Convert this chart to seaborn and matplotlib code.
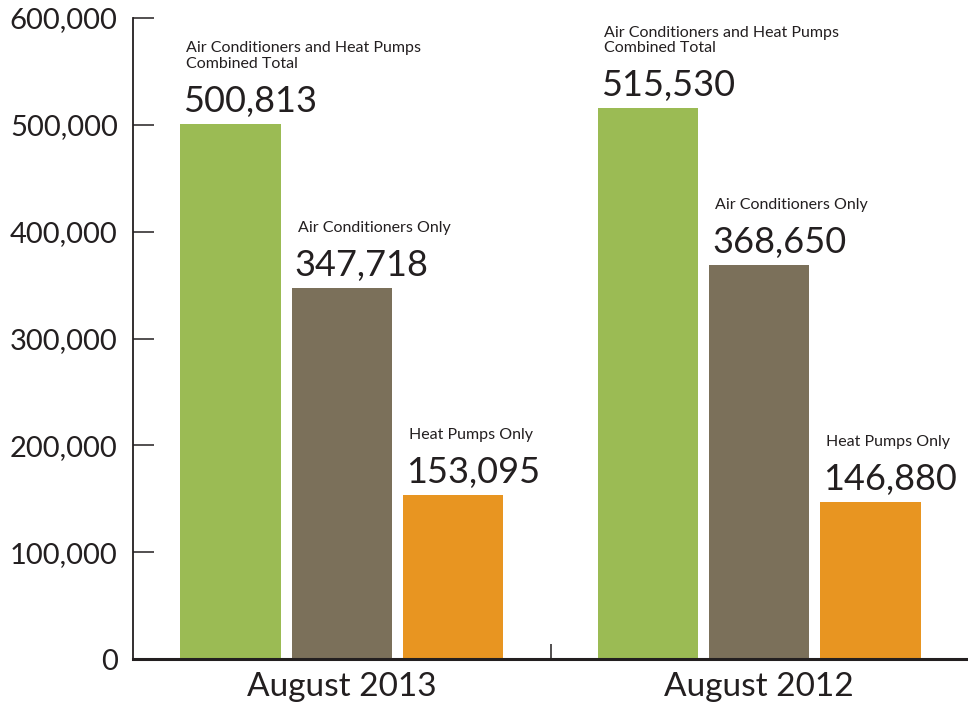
import pandas as pd
import matplotlib
matplotlib.use("Agg")
import matplotlib.pyplot as plt
import seaborn as sns

# chart data
periods = ["August 2013", "August 2012"]
types = ["Combined", "AC Only", "HP Only"]
type_titles = ["Air Conditioners and Heat Pumps\nCombined Total",
               "Air Conditioners Only",
               "Heat Pumps Only"]
combined = [500813, 515530]
ac_only = [347718, 368650]
hp_only = [153095, 146880]
y_ticks = [0, 100000, 200000, 300000, 400000, 500000, 600000]

colors = ["#9BBB54", "#7B705A", "#E89521"]
text_color = "#231F20"

df = pd.DataFrame({
    "period": periods * 3,
    "type": [types[0]] * 2 + [types[1]] * 2 + [types[2]] * 2,
    "units": combined + ac_only + hp_only,
})

sns.set_style("white")
plt.rcParams["font.family"] = ["Lato", "DejaVu Sans"]
plt.rcParams["text.color"] = text_color

fig = plt.figure(figsize=(9.68, 7.13), dpi=100)
ax = fig.add_axes([0.1374, 0.0757, 0.8626, 0.899])

sns.barplot(data=df, x="period", y="units", hue="type", order=periods,
            hue_order=types, palette=colors, width=0.8, gap=0.1,
            saturation=1, linewidth=0, legend=False, ax=ax)

ax.set_xlim(-0.5, 1.5)
ax.set_ylim(0, 600000)
ax.set_yticks(y_ticks)
ax.set_yticklabels([f"{t:,}" for t in y_ticks])
ax.set_xlabel("")
ax.set_ylabel("")

# spines
sns.despine(ax=ax, top=True, right=True)
ax.spines["left"].set_color(text_color)
ax.spines["left"].set_linewidth(1.3)
ax.spines["bottom"].set_color(text_color)
ax.spines["bottom"].set_linewidth(2.2)

ax.tick_params(axis="y", left=True, direction="in", length=15, width=1.1,
               color=text_color, labelsize=21, pad=11, labelcolor=text_color)
ax.tick_params(axis="x", which="major", bottom=True, length=0, labelsize=24,
               pad=9, labelcolor=text_color)
ax.set_xticks([0.5], minor=True)
ax.tick_params(axis="x", which="minor", bottom=True, direction="in",
               length=11, width=1.1, color=text_color)

# value labels above bars
for i, t in enumerate(types):
    for j, p in enumerate(periods):
        bar = ax.patches[i * len(periods) + j]
        x0 = bar.get_x()
        h = bar.get_height()
        ax.annotate(f"{int(h):,}", (x0, h), xytext=(3, 12),
                    textcoords="offset pixels", ha="left", va="baseline",
                    fontsize=26, color=text_color)
        ax.annotate(type_titles[i], (x0, h), xytext=(6, 56),
                    textcoords="offset pixels", ha="left", va="baseline",
                    fontsize=11.5, color=text_color, linespacing=1.15)

fig.savefig("out.png", dpi=100)
